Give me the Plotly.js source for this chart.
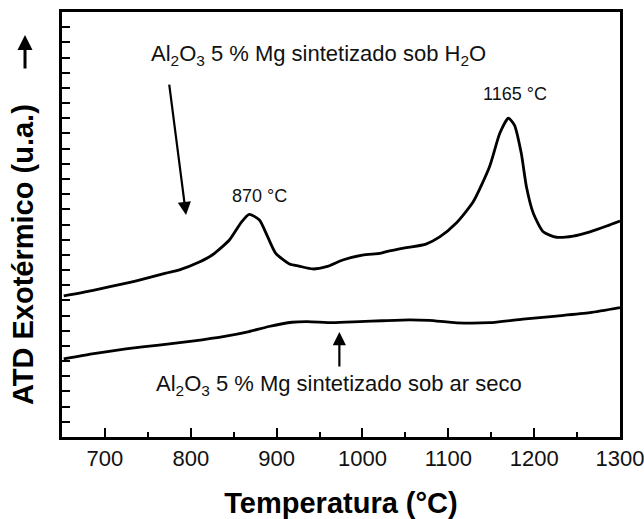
<!DOCTYPE html>
<html>
<head>
<meta charset="utf-8">
<script src="https://cdn.plot.ly/plotly-3.0.1.min.js"></script>
<style>
  html, body { margin: 0; padding: 0; background: #ffffff; }
  #chart { width: 644px; height: 519px; }
</style>
</head>
<body>
<div id="chart"></div>
<script>
// Upper curve: Al2O3 5 % Mg sintetizado sob H2O
const temperatureH2O = [652, 685, 725, 740, 771, 786, 810, 825, 845, 858, 868, 880, 889.5, 899, 915, 926, 942, 958, 977, 1000, 1020, 1028, 1051, 1074, 1090, 1109, 1129, 1148, 1160, 1170, 1177, 1185, 1191, 1199, 1210.5, 1226, 1245.5, 1265, 1284.5, 1300];
const signalH2O = [9.3, 9.65, 10.14, 10.34, 10.80, 11.00, 11.53, 11.99, 12.98, 14.08, 14.67, 14.30, 13.20, 12.10, 11.40, 11.26, 11.07, 11.22, 11.66, 11.99, 12.10, 12.21, 12.47, 12.71, 13.18, 14.08, 15.50, 17.81, 20.01, 21.00, 20.55, 18.69, 16.49, 14.74, 13.52, 13.16, 13.24, 13.52, 13.90, 14.23];

// Lower curve: Al2O3 5 % Mg sintetizado sob ar seco
const temperatureAr = [652, 685, 724.5, 763, 801.5, 841, 868, 891, 918, 936, 965, 996.5, 1023, 1055, 1078, 1110, 1148, 1187, 1226, 1265, 1300];
const signalAr = [5.14, 5.47, 5.80, 6.06, 6.32, 6.65, 6.95, 7.28, 7.56, 7.60, 7.53, 7.60, 7.66, 7.72, 7.68, 7.52, 7.53, 7.77, 7.97, 8.19, 8.52];

// Axis ticks
const xTickValues = [700, 800, 900, 1000, 1100, 1200, 1300];
const xTickLabels = ['700', '800', '900', '1000', '1100', '1200', '1300'];

// Peak labels
const peakLabels = ['870 °C', '1165 °C'];
const peakLabelT = [880.3, 1177.4];
const peakLabelY = [15.88, 22.6];

const FONT = 'Liberation Sans, Arial, Helvetica, sans-serif';

const lineStyle = { color: '#000000', width: 2.8, shape: 'spline', smoothing: 0.6 };

const traces = [
  { x: temperatureH2O, y: signalH2O, type: 'scatter', mode: 'lines', line: lineStyle, showlegend: false, hoverinfo: 'skip' },
  { x: temperatureAr, y: signalAr, type: 'scatter', mode: 'lines', line: lineStyle, showlegend: false, hoverinfo: 'skip' }
];

const annotations = [
  { x: 751.4, y: 25.2, xref: 'x', yref: 'y', xanchor: 'left', yanchor: 'middle', showarrow: false,
    text: 'Al<sub>2</sub>O<sub>3</sub> 5 % Mg sintetizado sob H<sub>2</sub>O', font: { family: FONT, size: 22, color: '#111111' } },
  { x: 757.2, y: 3.4, xref: 'x', yref: 'y', xanchor: 'left', yanchor: 'middle', showarrow: false,
    text: 'Al<sub>2</sub>O<sub>3</sub> 5 % Mg sintetizado sob ar seco', font: { family: FONT, size: 22, color: '#111111' } },
  // arrow from upper label to curve
  { x: 794.5, y: 14.62, ax: 774.7, ay: 23.32, xref: 'x', yref: 'y', axref: 'x', ayref: 'y', text: '', showarrow: true,
    arrowhead: 2, arrowsize: 1.2, arrowwidth: 2.2, arrowcolor: '#000000', standoff: 0, startstandoff: 0 },
  // arrow from lower label to curve
  { x: 973.1, y: 6.92, ax: 973.1, ay: 4.55, xref: 'x', yref: 'y', axref: 'x', ayref: 'y', text: '', showarrow: true,
    arrowhead: 2, arrowsize: 1.2, arrowwidth: 2.2, arrowcolor: '#000000', standoff: 0, startstandoff: 0 },
  // y-axis title
  { x: -0.0699, y: 0.4306, xref: 'paper', yref: 'paper', xanchor: 'center', yanchor: 'middle', showarrow: false, textangle: -90,
    text: '<b>ATD Exotérmico (u.a.)</b>', font: { family: FONT, size: 29, color: '#000000' } },
  // exothermic direction arrow
  { x: -0.0663, y: 0.9459, xref: 'paper', yref: 'paper', ax: 0, ay: 35, text: '', showarrow: true,
    arrowhead: 2, arrowsize: 1.0, arrowwidth: 3, arrowcolor: '#000000', standoff: 0, startstandoff: 0 }
];
peakLabels.forEach((label, i) => {
  annotations.push({ x: peakLabelT[i], y: peakLabelY[i], xref: 'x', yref: 'y', xanchor: 'center', yanchor: 'middle', showarrow: false,
    text: label, font: { family: FONT, size: 18, color: '#111111' } });
});

const layout = {
  width: 644,
  height: 519,
  margin: { l: 62, r: 24, t: 12, b: 82, pad: 0 },
  paper_bgcolor: '#ffffff',
  plot_bgcolor: '#ffffff',
  font: { family: FONT, color: '#000000' },
  showlegend: false,
  xaxis: {
    range: [650, 1300],
    tickmode: 'array',
    tickvals: xTickValues,
    ticktext: xTickLabels,
    ticks: 'inside',
    ticklen: 9,
    tickwidth: 2,
    tickcolor: '#000000',
    ticklabeloverflow: 'allow',
    tickfont: { family: FONT, size: 22, color: '#111111' },
    minor: { ticks: 'inside', ticklen: 5, tickwidth: 2, tickcolor: '#000000', dtick: 50, tick0: 650, showgrid: false },
    showline: true,
    linewidth: 2.6,
    linecolor: '#000000',
    mirror: true,
    showgrid: false,
    zeroline: false,
    title: { text: '<b>Temperatura (°C)</b>', font: { family: FONT, size: 29, color: '#000000' }, standoff: 23 }
  },
  yaxis: {
    range: [0, 28],
    tickmode: 'linear',
    tick0: 0,
    dtick: 1,
    ticks: 'inside',
    ticklen: 8,
    tickwidth: 2,
    tickcolor: '#000000',
    showticklabels: false,
    showline: true,
    linewidth: 2.6,
    linecolor: '#000000',
    mirror: true,
    showgrid: false,
    zeroline: false
  },
  annotations: annotations
};

Plotly.newPlot('chart', traces, layout, { displayModeBar: false, staticPlot: true });
</script>
</body>
</html>
